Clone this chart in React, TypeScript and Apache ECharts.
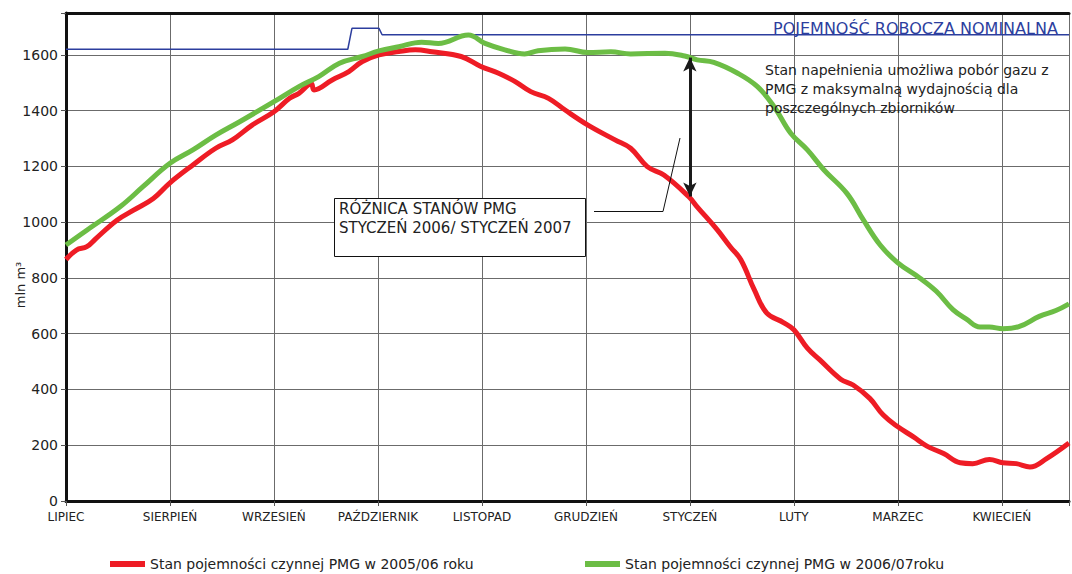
import React, { useEffect, useRef } from 'react';
import * as echarts from 'echarts';

const MONTHS = ['LIPIEC', 'SIERPIEŃ', 'WRZESIEŃ', 'PAŹDZIERNIK', 'LISTOPAD', 'GRUDZIEŃ', 'STYCZEŃ', 'LUTY', 'MARZEC', 'KWIECIEŃ'];

const X_MAX = 9.646;
const Y_MAX = 1750;
const Y_STEP = 200;

const RED_NAME = 'Stan pojemności czynnej PMG w 2005/06 roku';
const GREEN_NAME = 'Stan pojemności czynnej PMG w 2006/07roku';

const RED: number[][] = [
  [0.0, 866], [0.1, 900], [0.2, 912], [0.29, 942], [0.49, 1007], [0.65, 1043], [0.84, 1085], [1.0, 1141],
  [1.22, 1205], [1.44, 1265], [1.6, 1295], [1.79, 1348], [2.0, 1396], [2.15, 1444], [2.24, 1462], [2.36, 1496],
  [2.385, 1474], [2.56, 1510], [2.72, 1540], [2.85, 1576], [3.01, 1600], [3.2, 1612], [3.36, 1618], [3.52, 1611],
  [3.8, 1594], [3.99, 1558], [4.16, 1534], [4.32, 1504], [4.47, 1468], [4.64, 1444], [4.8, 1402], [5.02, 1348],
  [5.28, 1295], [5.43, 1265], [5.59, 1199], [5.75, 1169], [5.99, 1091], [6.07, 1055], [6.26, 974], [6.39, 911],
  [6.49, 865], [6.62, 757], [6.74, 674], [6.9, 640], [7.0, 614], [7.13, 548], [7.25, 506], [7.45, 437],
  [7.57, 416], [7.73, 368], [7.86, 308], [8.0, 266], [8.15, 230], [8.28, 197], [8.44, 170], [8.6, 137],
  [8.72, 134], [8.88, 149], [9.01, 137], [9.14, 134], [9.27, 122], [9.43, 152], [9.646, 208],
];

const GREEN: number[][] = [
  [0.0, 918], [0.2, 971], [0.52, 1055], [0.74, 1127], [1.0, 1211], [1.22, 1259], [1.44, 1312], [1.67, 1360],
  [2.0, 1432], [2.24, 1486], [2.43, 1522], [2.63, 1570], [2.85, 1594], [3.01, 1614], [3.2, 1629], [3.42, 1645],
  [3.58, 1641], [3.87, 1671], [4.03, 1641], [4.22, 1618], [4.41, 1603], [4.54, 1615], [4.8, 1621], [5.02, 1608],
  [5.24, 1611], [5.43, 1603], [5.76, 1606], [5.95, 1596], [6.07, 1582], [6.23, 1573], [6.46, 1534], [6.65, 1486],
  [6.81, 1414], [6.97, 1319], [7.13, 1259], [7.29, 1187], [7.51, 1103], [7.67, 1007], [7.83, 918], [8.0, 854],
  [8.21, 800], [8.37, 752], [8.53, 686], [8.66, 652], [8.79, 624], [8.88, 624], [9.01, 618], [9.17, 626],
  [9.36, 662], [9.52, 683], [9.646, 707],
];

const NOMINAL: number[][] = [
  [0, 1620], [2.71, 1620], [2.75, 1695], [3.01, 1695], [3.04, 1672], [9.646, 1672],
];

const ARROW: number[][] = [[6.0, 1590], [6.0, 1092]];

const FONT = 'DejaVu Sans';

export default function App() {
  const ref = useRef<HTMLDivElement>(null);
  useEffect(() => {
    const chart = echarts.init(ref.current!, null, { renderer: 'svg' });
    chart.setOption({
      animation: false,
      backgroundColor: '#ffffff',
      grid: { left: 66, right: -1, top: 13, bottom: 73 },
      xAxis: [
        {
          type: 'value', min: 0, max: X_MAX, interval: 1,
          axisLine: { lineStyle: { color: '#111', width: 3 } },
          axisTick: { show: true, length: 5, lineStyle: { color: '#555' } },
          axisLabel: {
            formatter: (v: number) => (Number.isInteger(v) && MONTHS[v] ? MONTHS[v] : ''),
            fontFamily: FONT, fontSize: 12, color: '#222', margin: 10,
          },
          splitLine: { show: true, lineStyle: { color: '#6b6b6b', width: 1 } },
        },
        {
          type: 'value', position: 'top', min: 0, max: X_MAX,
          axisLine: { show: true, onZero: false, lineStyle: { color: '#111', width: 3 } },
          axisTick: { show: false }, axisLabel: { show: false }, splitLine: { show: false },
        },
      ],
      yAxis: {
        type: 'value', min: 0, max: Y_MAX, interval: Y_STEP,
        axisLine: { show: true, lineStyle: { color: '#111', width: 3 } },
        axisTick: { show: true, length: 5, lineStyle: { color: '#555' } },
        axisLabel: {
          formatter: (v: number) => (v % Y_STEP === 0 ? String(v) : ''),
          fontFamily: FONT, fontSize: 14, color: '#222', margin: 8,
        },
        splitLine: { lineStyle: { color: '#6b6b6b', width: 1 } },
      },
      legend: [
        {
          data: [RED_NAME], left: 110, top: 557, padding: 0, itemWidth: 35, itemHeight: 6, icon: 'rect',
          textStyle: { fontFamily: FONT, fontSize: 14, color: '#222' },
        },
        {
          data: [GREEN_NAME], left: 585, top: 557, padding: 0, itemWidth: 35, itemHeight: 6, icon: 'rect',
          textStyle: { fontFamily: FONT, fontSize: 14, color: '#222' },
        },
      ],
      series: [
        {
          name: 'nominal', type: 'line', data: NOMINAL, showSymbol: false, silent: true,
          lineStyle: { color: '#2c3e9e', width: 1.5 }, z: 2,
        },
        {
          name: RED_NAME, type: 'line', data: RED, showSymbol: false, smooth: 0.4,
          lineStyle: { color: '#ee1c25', width: 5 }, itemStyle: { color: '#ee1c25' }, z: 3,
        },
        {
          name: GREEN_NAME, type: 'line', data: GREEN, showSymbol: false, smooth: 0.4,
          lineStyle: { color: '#6cbd45', width: 5 }, itemStyle: { color: '#6cbd45' }, z: 4,
          markLine: {
            silent: true, symbol: ['arrow', 'arrow'], symbolSize: [10, 14],
            label: { show: false },
            lineStyle: { color: '#1a1a1a', width: 3, type: 'solid' },
            data: [[{ coord: ARROW[0] }, { coord: ARROW[1] }]],
          },
        },
      ],
      graphic: [
        {
          type: 'text', x: 773, y: 28, z: 100,
          style: { text: 'POJEMNOŚĆ ROBOCZA NOMINALNA', fill: '#2c3e9e', font: `16px "${FONT}"`, textVerticalAlign: 'middle' },
        },
        {
          type: 'text', x: 765, y: 60, z: 100,
          style: {
            text: 'Stan napełnienia umożliwa pobór gazu z\nPMG z maksymalną wydajnością dla\nposzczególnych zbiorników',
            fill: '#222', font: `14px "${FONT}"`, lineHeight: 19,
          },
        },
        {
          type: 'rect', z: 100,
          shape: { x: 334.5, y: 198.5, width: 251, height: 58 },
          style: { fill: '#ffffff', stroke: '#111', lineWidth: 1 },
        },
        {
          type: 'text', x: 339, y: 199, z: 101,
          style: {
            text: 'RÓŻNICA STANÓW PMG\nSTYCZEŃ 2006/ STYCZEŃ 2007',
            fill: '#222', font: `15px "${FONT}"`, lineHeight: 19,
          },
        },
        {
          type: 'polyline', z: 100,
          shape: { points: [[594, 211.5], [663, 211.5], [680, 138]] },
          style: { stroke: '#111', lineWidth: 1, fill: 'none' },
        },
        {
          type: 'text', x: 20, y: 285, rotation: Math.PI / 2, z: 100,
          style: { text: 'mln m³', fill: '#222', font: `13px "${FONT}"`, textAlign: 'center', textVerticalAlign: 'middle' },
        },
      ],
    });
    return () => chart.dispose();
  }, []);
  return (
    <div
      ref={ref}
      style={{ position: 'fixed', left: 0, top: 0, width: 1072, height: 574, background: '#fff' }}
    />
  );
}
